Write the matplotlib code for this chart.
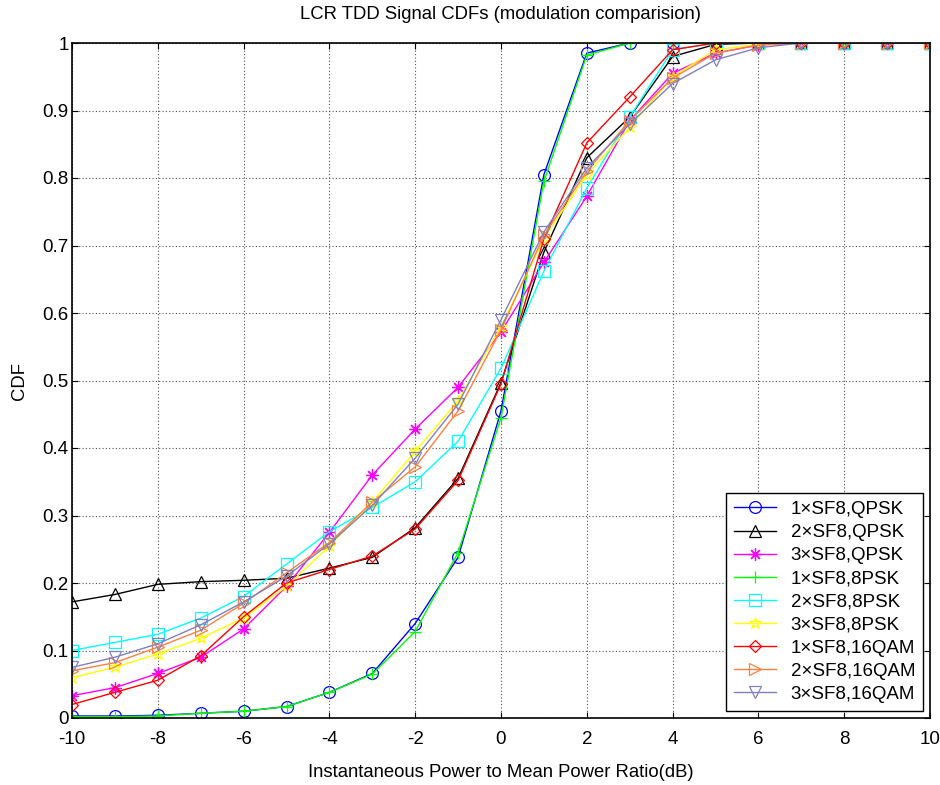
import matplotlib
matplotlib.use("Agg")
import matplotlib.pyplot as plt
import numpy as np

x_db = list(range(-10, 11))

cdf_1sf8_qpsk = [0.003, 0.003, 0.004, 0.007, 0.010, 0.017, 0.038, 0.066, 0.140, 0.238, 0.455,
                 0.805, 0.985, 1.0, 1.0, 1.0, 1.0, 1.0, 1.0, 1.0, 1.0]
cdf_2sf8_qpsk = [0.172, 0.183, 0.198, 0.202, 0.204, 0.207, 0.222, 0.238, 0.282, 0.355, 0.497,
                 0.690, 0.830, 0.890, 0.980, 0.998, 1.0, 1.0, 1.0, 1.0, 1.0]
cdf_3sf8_qpsk = [0.033, 0.045, 0.066, 0.090, 0.132, 0.195, 0.275, 0.360, 0.428, 0.490, 0.572,
                 0.675, 0.773, 0.885, 0.955, 0.985, 0.997, 1.0, 1.0, 1.0, 1.0]
cdf_1sf8_8psk = [0.002, 0.002, 0.003, 0.007, 0.010, 0.017, 0.038, 0.065, 0.128, 0.245, 0.445,
                 0.795, 0.982, 1.0, 1.0, 1.0, 1.0, 1.0, 1.0, 1.0, 1.0]
cdf_2sf8_8psk = [0.100, 0.112, 0.124, 0.148, 0.180, 0.228, 0.276, 0.312, 0.350, 0.410, 0.518,
                 0.662, 0.785, 0.890, 0.990, 1.0, 1.0, 1.0, 1.0, 1.0, 1.0]
cdf_3sf8_8psk = [0.060, 0.075, 0.095, 0.118, 0.148, 0.195, 0.255, 0.320, 0.395, 0.470, 0.580,
                 0.710, 0.805, 0.875, 0.950, 0.990, 0.998, 1.0, 1.0, 1.0, 1.0]
cdf_1sf8_16qam = [0.020, 0.038, 0.056, 0.092, 0.150, 0.200, 0.220, 0.240, 0.280, 0.352, 0.495,
                  0.710, 0.852, 0.920, 0.990, 1.0, 1.0, 1.0, 1.0, 1.0, 1.0]
cdf_2sf8_16qam = [0.070, 0.082, 0.105, 0.130, 0.170, 0.215, 0.260, 0.320, 0.372, 0.455, 0.575,
                  0.715, 0.810, 0.885, 0.948, 0.985, 0.997, 1.0, 1.0, 1.0, 1.0]
cdf_3sf8_16qam = [0.075, 0.090, 0.110, 0.138, 0.172, 0.210, 0.258, 0.315, 0.385, 0.465, 0.590,
                  0.720, 0.815, 0.880, 0.940, 0.975, 0.993, 1.0, 1.0, 1.0, 1.0]

labels = ["1×SF8,QPSK", "2×SF8,QPSK", "3×SF8,QPSK",
          "1×SF8,8PSK", "2×SF8,8PSK", "3×SF8,8PSK",
          "1×SF8,16QAM", "2×SF8,16QAM", "3×SF8,16QAM"]
series = [cdf_1sf8_qpsk, cdf_2sf8_qpsk, cdf_3sf8_qpsk,
          cdf_1sf8_8psk, cdf_2sf8_8psk, cdf_3sf8_8psk,
          cdf_1sf8_16qam, cdf_2sf8_16qam, cdf_3sf8_16qam]
colors = ["#0000ff", "#000000", "#ff00ff", "#00ff00", "#00ffff", "#ffff00",
          "#ff0000", "#ff7f3f", "#8080c0"]
# asterisk for the magenta series, pentagram for the yellow one
markers = ["o", "^", (8, 2, 0), "+", "s", "*", "D", ">", "v"]
msizes = [8.5, 9, 9, 9, 8, 9, 6.5, 9, 9]

plt.rcParams["font.family"] = ["Liberation Sans", "DejaVu Sans"]
plt.rcParams["axes.unicode_minus"] = False

fig = plt.figure(figsize=(9.4, 7.85), dpi=100)
ax = fig.add_axes([72 / 940, 1 - 718 / 785, 858 / 940, 675 / 785])

for y, lab, c, m, ms in zip(series, labels, colors, markers, msizes):
    ax.plot(x_db, y, color=c, marker=m, markersize=ms, markerfacecolor="none",
            markeredgecolor=c, markeredgewidth=0.9, linewidth=1.0, label=lab)

ax.set_xlim(-10, 10)
ax.set_ylim(0, 1)
ax.set_xticks(np.arange(-10, 11, 2))
ax.set_yticks(np.round(np.arange(0, 1.01, 0.1), 1))
ax.set_yticklabels(["0", "0.1", "0.2", "0.3", "0.4", "0.5", "0.6", "0.7", "0.8", "0.9", "1"])
ax.tick_params(direction="in", length=4, labelsize=13.5, top=True, right=True)
ax.tick_params(axis="x", pad=9)
ax.tick_params(axis="y", pad=2.5)
ax.grid(True, linestyle=(0, (1, 2)), color="#505050", linewidth=0.8)
for s in ax.spines.values():
    s.set_linewidth(1.2)

ax.set_title("LCR TDD Signal CDFs (modulation comparision)", fontsize=13.3,
             pad=17)
ax.set_xlabel("Instantaneous Power to Mean Power Ratio(dB)", fontsize=13.3,
              labelpad=12)
ax.set_ylabel("CDF", fontsize=13.3, labelpad=10)

leg = ax.legend(loc="lower right", fontsize=13.5, frameon=True, fancybox=False,
                edgecolor="black", framealpha=1, borderaxespad=0.37,
                handlelength=2.2, labelspacing=0.32, borderpad=0.43,
                handletextpad=0.8)
leg.get_frame().set_linewidth(1.0)

fig.savefig("out.png", dpi=100)
